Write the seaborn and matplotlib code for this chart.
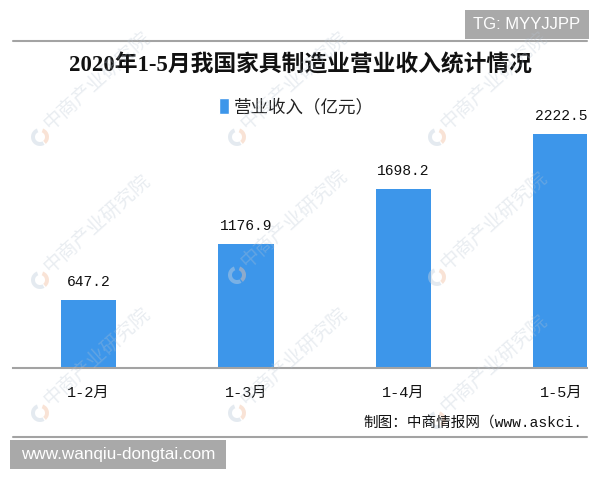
import matplotlib
matplotlib.use('Agg')
import matplotlib.pyplot as plt
from matplotlib.patches import Patch, Rectangle, Wedge
import seaborn as sns

# data
months = ['1-2月', '1-3月', '1-4月', '1-5月']
revenue = [647.2, 1176.9, 1698.2, 2222.5]
series_name = '营业收入（亿元）'
title = '2020年1-5月我国家具制造业营业收入统计情况'
source = '制图：中商情报网（www.askci.'

bar_color = '#3d96ea'
line_gray = '#a3a3a3'
mono_cjk = ['Liberation Mono', 'Noto Sans CJK SC']

sns.set_style('white')
plt.rcParams['font.family'] = ['Noto Sans CJK SC', 'DejaVu Sans']

fig = plt.figure(figsize=(6, 4.8), dpi=100)
ax = fig.add_axes([13 / 600, 112 / 480, 574 / 600, 327.3 / 480])
sns.barplot(x=months, y=revenue, color=bar_color, width=0.35,
            saturation=1, linewidth=0, ax=ax)
ax.set_xlim(-0.479, 3.165)
ax.set_ylim(0, 3111)
sns.despine(ax=ax, left=True)
ax.spines['bottom'].set_color(line_gray)
ax.spines['bottom'].set_linewidth(1.5)
ax.set_yticks([])
ax.set_xlabel('')
ax.set_ylabel('')
ax.set_xticks([0.5, 1.5, 2.5], minor=True)
ax.tick_params(axis='x', which='major', length=0, pad=13)
ax.tick_params(axis='x', which='minor', length=5, width=1, color=line_gray,
               direction='out')
for lbl in ax.get_xticklabels():
    lbl.set_fontfamily(mono_cjk)
    lbl.set_fontsize(11)
    lbl.set_color('#111111')

for i, v in enumerate(revenue):
    ax.annotate(f'{v:.1f}', (i, v), xytext=(0, 13), textcoords='offset points',
                ha='center', va='center', fontsize=10.5, family=mono_cjk,
                color='#111111', clip_on=True)

leg = ax.legend(handles=[Patch(facecolor=bar_color, label=series_name)],
                loc='center', bbox_to_anchor=(296 / 600, 1 - 107 / 480),
                bbox_transform=fig.transFigure, frameon=False,
                handlelength=0.6, handleheight=1.0, handletextpad=0.25,
                prop={'family': 'Noto Sans CJK SC', 'size': 12.6})
for t in leg.get_texts():
    t.set_color('#222222')

fig.text(0.5, 1 - 65 / 480, title, ha='center', va='center', fontsize=16.4,
         fontweight='bold', family=['Liberation Serif', 'Noto Sans CJK SC'],
         color='#111111')

# overlay in pixel units for frame lines, watermark and stamps
ov = fig.add_axes([0, 0, 1, 1], zorder=10)
ov.set_xlim(0, 600)
ov.set_ylim(480, 0)
ov.axis('off')
ov.patch.set_alpha(0)

ov.plot([13, 587], [40.7, 40.7], color=line_gray, lw=1.5)
ov.plot([13, 587], [437, 437], color=line_gray, lw=1.5)
ov.text(363, 423, source, ha='left', va='center', fontsize=10.5,
        family=mono_cjk, color='#111111')

logos = [(40, 137), (237, 137), (437, 137),
         (40, 280), (237, 275), (437, 277),
         (40, 413), (237, 413), (437, 420)]
for lx, ly in logos:
    ov.add_patch(Wedge((lx, ly), 9, -70, 50, width=4, facecolor='#f2c3a6',
                       edgecolor='none', alpha=0.45))
    ov.add_patch(Wedge((lx, ly), 9, 60, 250, width=4, facecolor='#c5d2df',
                       edgecolor='none', alpha=0.45))
    ov.text(lx + 6, ly - 11, '中商产业研究院', rotation=42, rotation_mode='anchor',
            ha='left', va='center', fontsize=14, color='#b7c4d2', alpha=0.3,
            family='Noto Sans CJK SC')

ov.add_patch(Rectangle((465, 10), 124, 29, facecolor='#a9a9a9', edgecolor='none'))
ov.text(527, 24.5, 'TG: MYYJJPP', ha='center', va='center', fontsize=12,
        color='white', family='Liberation Sans')
ov.add_patch(Rectangle((10, 440), 216, 29, facecolor='#a9a9a9', edgecolor='none'))
ov.text(118, 455, 'www.wanqiu-dongtai.com', ha='center', va='center',
        fontsize=12.3, color='white', family='Liberation Sans')

fig.savefig('out.png', dpi=100, facecolor='white')
